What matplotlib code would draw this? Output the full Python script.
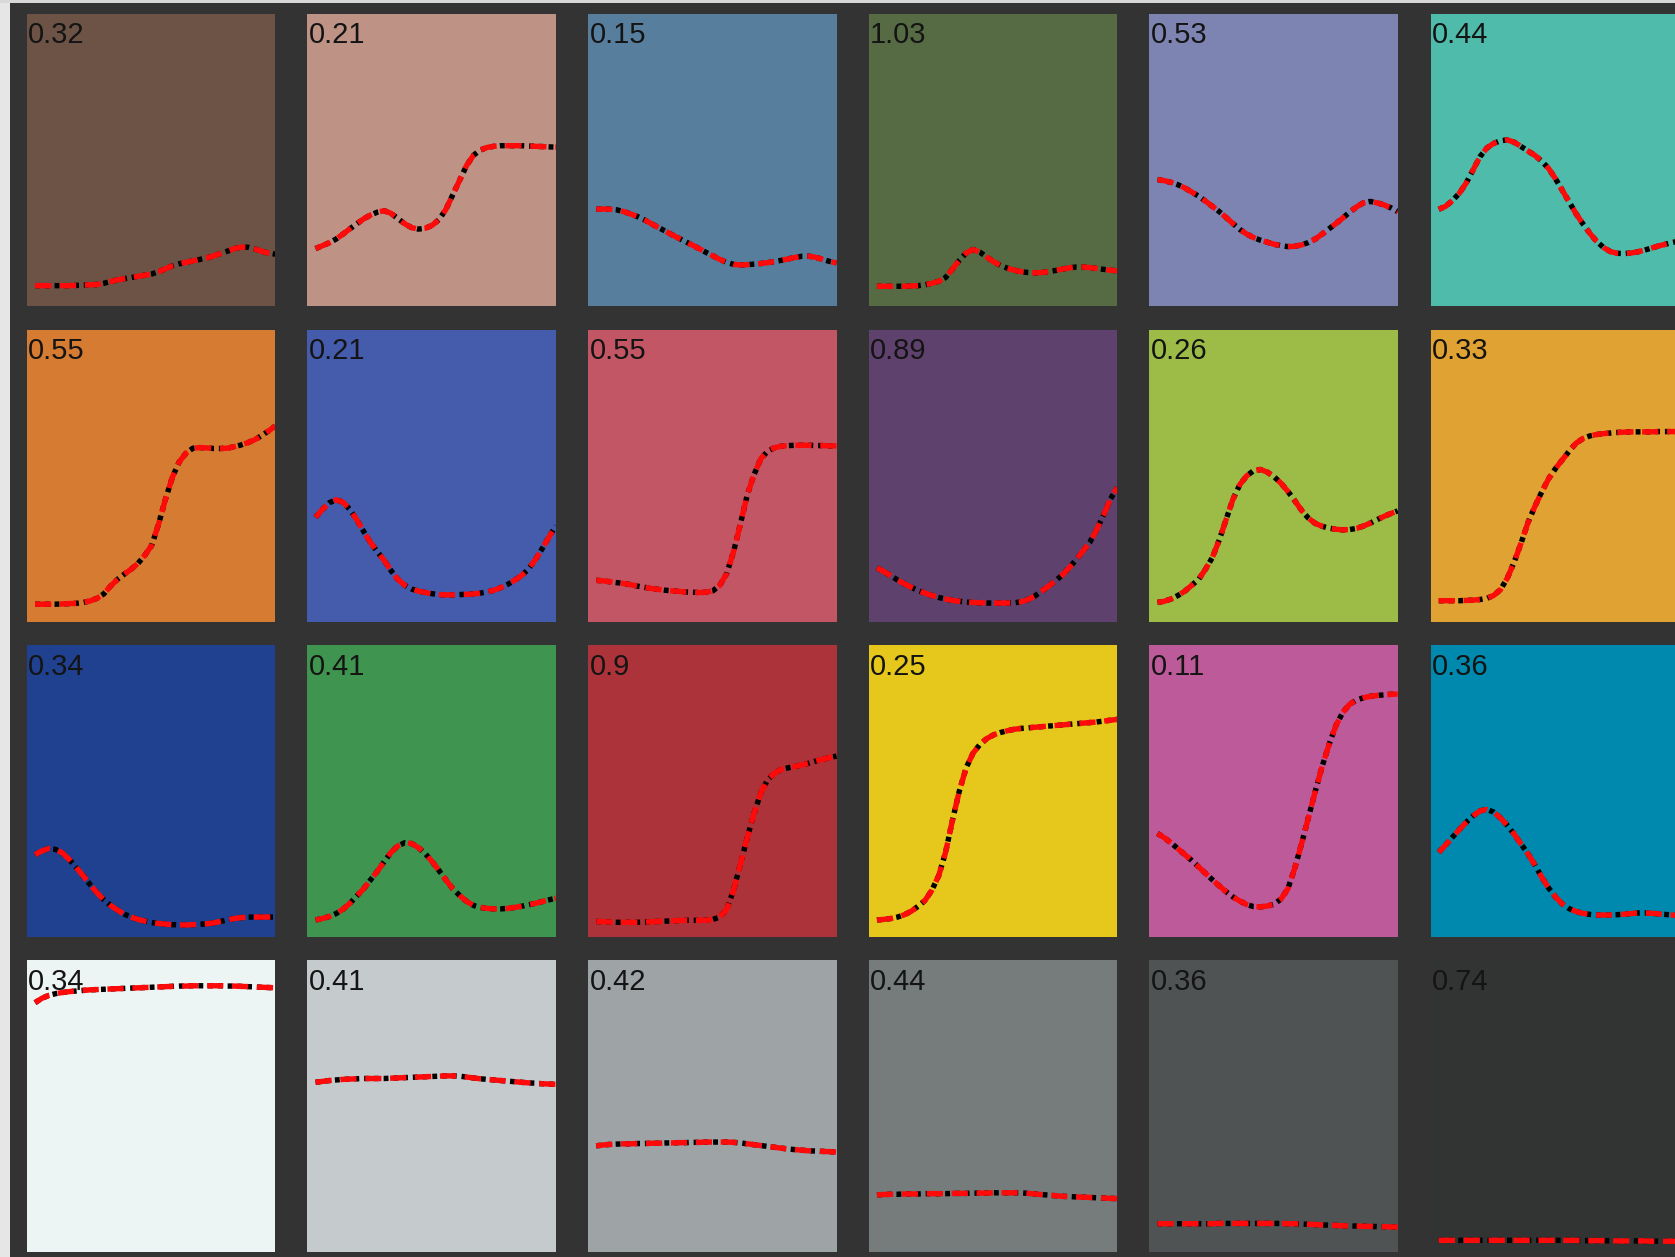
import numpy as np
import matplotlib
matplotlib.use("Agg")
import matplotlib.pyplot as plt
from matplotlib.patches import Rectangle

# Wavelength samples (nm)
wavelengths = np.arange(380, 740, 10)

# Reflectance of the 24 patches, row by row
dark_skin = [.068, .068, .068, .068, .068, .068, .069, .070, .071, .072,
             .076, .082, .088, .092, .096, .100, .104, .108, .116, .126,
             .136, .143, .148, .153, .158, .163, .170, .178, .186, .195,
             .200, .200, .194, .186, .180, .176]
light_skin = [.195, .205, .215, .228, .245, .263, .280, .297, .310, .320,
              .325, .316, .298, .280, .267, .262, .265, .275, .295, .330,
              .380, .430, .480, .515, .533, .542, .546, .548, .548, .548,
              .548, .547, .546, .545, .544, .543]
blue_sky = [.330, .331, .330, .328, .322, .314, .305, .294, .281, .268,
            .256, .243, .231, .219, .207, .195, .182, .170, .158, .148,
            .141, .139, .140, .142, .144, .147, .151, .155, .160, .165,
            .169, .169, .165, .158, .151, .146]
foliage = [.066, .066, .066, .066, .066, .067, .068, .071, .076, .083,
           .096, .125, .155, .180, .192, .183, .166, .150, .137, .128,
           .121, .116, .113, .112, .113, .116, .120, .125, .129, .132,
           .132, .130, .127, .124, .121, .119]
blue_flower = [.432, .428, .422, .414, .403, .389, .375, .358, .340, .322,
               .302, .281, .261, .245, .233, .224, .217, .210, .205, .202,
               .203, .208, .216, .228, .245, .263, .281, .300, .320, .338,
               .352, .357, .352, .345, .335, .322]
bluish_green = [.330, .340, .360, .385, .420, .465, .510, .540, .556, .565,
                .568, .560, .545, .530, .515, .495, .470, .435, .395, .355,
                .315, .280, .248, .220, .199, .185, .179, .178, .180, .184,
                .190, .197, .204, .210, .216, .221]
orange = [.060, .060, .060, .060, .061, .062, .063, .066, .071, .080,
          .095, .122, .145, .163, .180, .200, .228, .262, .335, .420,
          .495, .548, .578, .595, .597, .596, .594, .594, .595, .600,
          .606, .614, .624, .638, .654, .671]
purplish_blue = [.358, .385, .408, .418, .410, .385, .350, .310, .272, .240,
                 .210, .175, .145, .125, .112, .105, .100, .096, .093, .092,
                 .092, .093, .094, .095, .098, .102, .108, .117, .128, .142,
                 .158, .180, .212, .250, .290, .329]
moderate_red = [.142, .140, .137, .134, .131, .127, .122, .118, .114, .111,
                .108, .106, .104, .102, .101, .100, .101, .106, .125, .165,
                .240, .335, .435, .505, .560, .585, .597, .602, .604, .605,
                .605, .605, .604, .604, .603, .603]
purple = [.185, .172, .158, .143, .130, .118, .107, .098, .090, .083,
          .078, .073, .070, .067, .066, .065, .064, .064, .064, .064,
          .065, .068, .076, .088, .105, .122, .140, .160, .185, .212,
          .242, .272, .315, .365, .420, .460]
yellow_green = [.066, .070, .078, .090, .105, .125, .145, .180, .220, .280,
                .350, .420, .470, .500, .518, .522, .513, .497, .475, .447,
                .415, .382, .355, .337, .327, .321, .317, .315, .316, .320,
                .328, .338, .350, .361, .371, .380]
orange_yellow = [.072, .072, .072, .072, .073, .074, .076, .080, .090, .110,
                 .150, .205, .270, .340, .395, .445, .490, .525, .555, .585,
                 .612, .628, .637, .642, .645, .647, .649, .650, .651, .651,
                 .651, .651, .652, .652, .652, .652]
blue = [.282, .295, .303, .300, .288, .265, .238, .210, .180, .152,
        .128, .108, .092, .078, .068, .060, .054, .049, .046, .044,
        .042, .041, .041, .042, .043, .045, .048, .053, .058, .063,
        .066, .068, .068, .068, .068, .068]
green = [.058, .063, .070, .080, .095, .115, .140, .165, .195, .225,
         .258, .290, .312, .323, .320, .306, .285, .258, .227, .195,
         .165, .142, .122, .108, .101, .098, .096, .096, .098, .101,
         .105, .110, .115, .121, .127, .133]
red = [.053, .052, .051, .050, .050, .050, .050, .051, .052, .053,
       .054, .055, .056, .057, .057, .057, .057, .060, .068, .095,
       .160, .250, .340, .425, .495, .540, .562, .575, .580, .585,
       .590, .596, .603, .609, .615, .620]
yellow = [.058, .060, .063, .068, .076, .088, .105, .125, .160, .210,
          .290, .400, .500, .580, .630, .660, .680, .693, .701, .707,
          .712, .715, .717, .719, .721, .723, .725, .727, .729, .731,
          .733, .735, .737, .740, .743, .746]
magenta = [.355, .340, .322, .302, .282, .262, .240, .218, .196, .175,
           .155, .137, .123, .111, .104, .103, .106, .112, .130, .165,
           .235, .320, .410, .500, .585, .660, .725, .770, .798, .812,
           .820, .825, .828, .830, .832, .833]
cyan = [.290, .315, .342, .368, .393, .415, .432, .437, .428, .408,
        .382, .352, .318, .285, .247, .205, .168, .137, .113, .097,
        .087, .081, .077, .075, .075, .075, .076, .078, .080, .082,
        .082, .081, .079, .077, .075, .073]
white = [.855, .870, .880, .886, .890, .893, .895, .897, .899, .900,
         .901, .902, .903, .904, .905, .906, .907, .908, .909, .910,
         .911, .912, .912, .913, .913, .913, .913, .913, .912, .912,
         .911, .910, .909, .908, .907, .906]
neutral_8 = [.582, .585, .588, .590, .592, .593, .594, .595, .595, .595,
             .595, .596, .597, .598, .599, .600, .601, .602, .603, .604,
             .604, .603, .600, .597, .594, .592, .590, .588, .586, .584,
             .582, .580, .579, .577, .576, .575]
neutral_65 = [.364, .367, .369, .370, .371, .371, .372, .372, .373, .373,
              .374, .374, .375, .375, .376, .376, .377, .377, .377, .377,
              .376, .374, .371, .368, .365, .362, .359, .356, .353, .351,
              .349, .347, .346, .345, .344, .343]
neutral_5 = [.196, .197, .198, .198, .199, .199, .199, .200, .200, .200,
             .200, .201, .201, .201, .202, .202, .202, .203, .203, .203,
             .203, .203, .201, .199, .197, .195, .193, .191, .190, .189,
             .188, .187, .186, .185, .184, .183]
neutral_35 = [.097, .097, .097, .097, .097, .097, .097, .097, .097, .098,
              .098, .098, .098, .098, .098, .098, .098, .098, .098, .097,
              .097, .096, .095, .094, .093, .092, .091, .090, .089, .089,
              .088, .088, .087, .087, .086, .086]
black = [.040, .040, .040, .040, .040, .040, .040, .040, .040, .040,
         .040, .040, .040, .040, .040, .040, .040, .040, .040, .040,
         .040, .039, .039, .039, .039, .038, .038, .038, .038, .038,
         .038, .037, .037, .037, .037, .037]

spectra = [dark_skin, light_skin, blue_sky, foliage, blue_flower, bluish_green,
           orange, purplish_blue, moderate_red, purple, yellow_green, orange_yellow,
           blue, green, red, yellow, magenta, cyan,
           white, neutral_8, neutral_65, neutral_5, neutral_35, black]

# Per-patch error labels
labels = ["0.32", "0.21", "0.15", "1.03", "0.53", "0.44",
          "0.55", "0.21", "0.55", "0.89", "0.26", "0.33",
          "0.34", "0.41", "0.9", "0.25", "0.11", "0.36",
          "0.34", "0.41", "0.42", "0.44", "0.36", "0.74"]

# Patch colours
patch_colors = ["#6c5346", "#be9385", "#587e9e", "#566b43", "#7e84b1", "#4fbcab",
                "#d67b32", "#455cac", "#c25664", "#5e416c", "#9dbb47", "#e0a232",
                "#1f4190", "#3f9450", "#ab3339", "#e6c81c", "#bd5a99", "#0089ae",
                "#edf5f4", "#c5cbcd", "#9ea3a5", "#767b7b", "#4f5354", "#323434"]

W, H = 1675, 1257
fig = plt.figure(figsize=(W / 100, H / 100), dpi=100, facecolor="#333333")

# Light border strips along the left and top edges
fig.patches.append(Rectangle((0, 0), 10 / W, 1, transform=fig.transFigure,
                             facecolor="#e6e6e6", edgecolor="none", zorder=-1))
fig.patches.append(Rectangle((0, 1 - 3 / H), 1, 3 / H, transform=fig.transFigure,
                             facecolor="#d8d8d8", edgecolor="none", zorder=-1))

col_left = [26.8, 307.3, 588.0, 868.7, 1149.2, 1430.5]
row_top = [13.9, 330.1, 645.3, 960.4]
pw, ph = 248.5, 291.6

for i, (refl, lab, col) in enumerate(zip(spectra, labels, patch_colors)):
    r, c = divmod(i, 6)
    x0 = col_left[c] / W
    y0 = 1 - (row_top[r] + ph) / H
    ax = fig.add_axes([x0, y0, pw / W, ph / H])
    ax.set_facecolor(col)
    # measured spectrum (black) with the fitted one (red, dashed) on top
    ax.plot(wavelengths, refl, color="black", lw=3.9, linestyle=(0, (0.9, 0.9)))
    ax.plot(wavelengths, refl, color="#ff0a0a", lw=3.9, linestyle=(0, (3.0, 1.6)))
    ax.set_xlim(368, 730)
    ax.set_ylim(0, 1)
    ax.set_xticks([])
    ax.set_yticks([])
    for s in ax.spines.values():
        s.set_visible(False)
    ax.text(0.006, 0.975, lab, transform=ax.transAxes, ha="left", va="top",
            fontsize=21, color="#141414",
            family=["Liberation Sans", "DejaVu Sans"])

fig.savefig("out.png", dpi=100, facecolor=fig.get_facecolor())
